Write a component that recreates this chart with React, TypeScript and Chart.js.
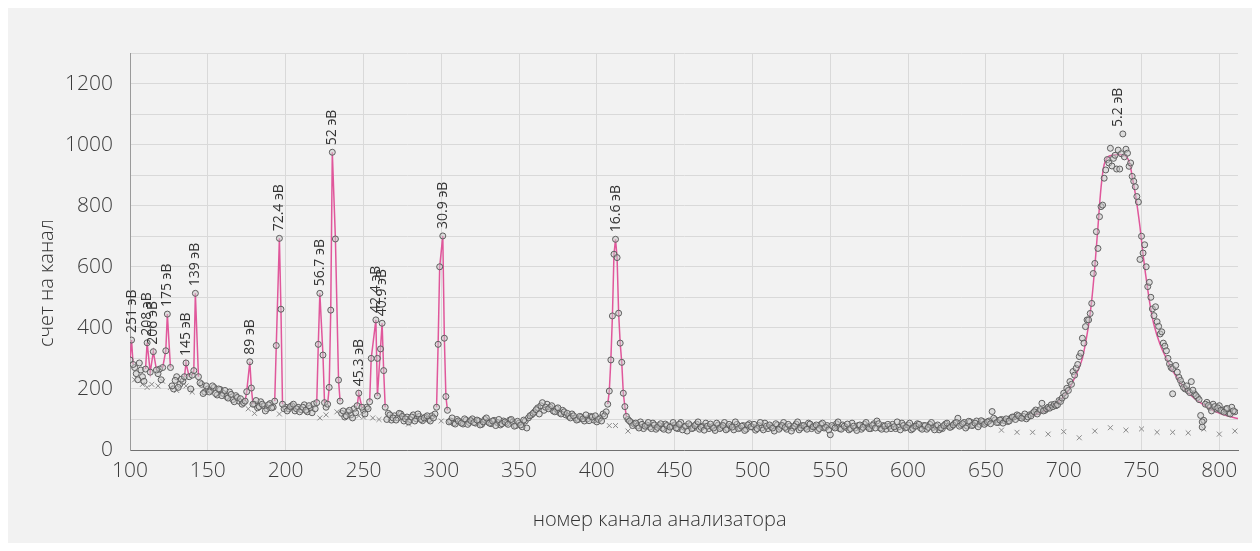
import React, { useEffect, useRef } from "react";
import { Chart, registerables } from "chart.js";

Chart.register(...registerables);

const FONT = "'Open Sans', 'Noto Sans', sans-serif";

// Measured counts, even channels from 100 to 688
const scatterAStart = 100;
const scatterAStep = 2;
const scatterA: (number | null)[] = [
  null, null, 250, 285, 240,
  275, 230, 260, 215, 250,
  230, 210, null, 225, 200,
  240, 215, 225, null, 230,
  210, null, 195, 215, 190,
  200, 195, 205, 180, 198,
  185, 175, 190, 165, 178,
  160, 150, 165, 145, null,
  150, 138, 158, 145, 135,
  152, 140, 160, null, 155,
  140, 135, 145, 128, 140,
  132, 148, 125, 138, 150,
  130, null, null, 140, null,
  null, null, null, 120, 108,
  125, 115, 135, 128, 145,
  130, 140, 125, 145, null,
  120, null, 105, 120, 98,
  112, 105, 118, 95, 108,
  100, 115, 102, 110, 96,
  108, 100, 112, 118, null,
  110, null, 120, 95, 88,
  100, 92, 85, 98, 90,
  102, 88, 95, 84, 100,
  92, 86, 97, 90, 82,
  95, 88, 98, 92, 80,
  88, 76, 95, 105, 115,
  125, 138, 145, 130, 150,
  140, 128, 135, 122, 130,
  115, 110, 118, 105, 100,
  108, 95, 102, 110, 98,
  92, 105, 118, 125, null,
  null, null, null, null, null,
  100, 90, 85, 78, 92,
  70, 82, 75, 88, 68,
  80, 72, 85, 65, 78,
  82, 70, 90, 75, 62,
  80, 72, 85, 68, 78,
  88, 70, 76, 64, 82,
  74, 90, 70, 78, 66,
  84, 72, 80, 68, 86,
  75, 65, 80, 72, 88,
  70, 76, 62, 82, 74,
  90, 68, 78, 72, 85,
  66, 80, 74, 88, 70,
  78, 64, 84, 72, 80,
  50, 76, 86, 70, 82,
  74, 66, 88, 72, 80,
  68, 84, 76, 70, 86,
  95, 72, 80, 68, 78,
  84, 70, 76, 88, 72,
  82, 66, 78, 86, 72,
  80, 68, 84, 74, 78,
  66, 70, 85, 78, 77,
  88, 104, 82, 90, 78,
  92, 82, 95, 84, 93,
  88, 95, 126, 99, 90,
  100, 96, 93, 104, 108,
  115, 106, 110, 102, 115,
  120, 131, 126, 153, 130,
];

// Measured counts, odd channels from 101 to 687
const scatterDStart = 101;
const scatterDStep = 2;
const scatterD: (number | null)[] = [
  300, 270, 230, 262, 225,
  260, 235, 270, 240, 265,
  245, 215, 235, 210, 228,
  205, 232, 218, 240, 200,
  225, 200, 220, 185, 210,
  190, 210, 185, 200, 178,
  195, 170, 182, 158, 172,
  168, 155, 140, 158, 150,
  162, 142, 150, 128, 148,
  138, 155, 145, 150, 135,
  128, 142, 150, 135, 125,
  140, 130, 145, 122, 135,
  142, 128, 138, 130, 145,
  140, 132, 115, 128, 112,
  130, 105, 122, 140, 130,
  118, 135, 128, 110, 140,
  125, 110, 100, 115, 105,
  98, 120, 110, 102, 92,
  108, 95, 118, 100, 105,
  112, 95, 105, 110, 120,
  130, 102, 92, 105, 85,
  95, 88, 102, 84, 96,
  90, 98, 82, 92, 105,
  88, 95, 80, 100, 86,
  92, 84, 100, 78, 94,
  82, 98, 72, 112, 120,
  132, 118, 155, 140, 135,
  145, 125, 138, 118, 125,
  120, 105, 112, 98, 110,
  102, 115, 96, 108, 112,
  100, 95, 112, 130, 140,
  null, null, null, null, null,
  95, 80, 88, 72, 84,
  78, 90, 70, 82, 74,
  86, 68, 80, 75, 90,
  72, 84, 66, 78, 86,
  70, 80, 92, 74, 65,
  78, 85, 72, 88, 70,
  80, 66, 84, 75, 92,
  70, 78, 64, 82, 76,
  84, 70, 90, 66, 78,
  82, 72, 86, 68, 80,
  74, 84, 62, 78, 92,
  72, 80, 68, 85, 76,
  82, 70, 88, 74, 66,
  80, 72, 92, 68, 78,
  85, 70, 78, 64, 82,
  74, 90, 70, 80, 72,
  86, 68, 78, 84, 70,
  76, 92, 66, 80, 74,
  88, 70, 78, 84, 68,
  80, 74, 90, 66, 82,
  72, 80, 88, 74, 82,
  90, 78, 86, 72, 94,
  80, 88, 76, 96, 84,
  92, 86, 104, 90, 98,
  88, 102, 95, 108, 100,
  112, 104, 118, 108, 112,
  125, 118, 132, 128,
];

// Every channel across the big peak, 689..770
const scatterBStart = 689;
const scatterBStep = 1;
const scatterB: number[] = [
  135, 140, 137, 148, 142, 150, 145, 148, 162, 159,
  170, 186, 178, 202, 195, 224, 215, 257, 245, 268,
  280, 306, 317, 366, 350, 404, 426, 426, 447, 480,
  578, 611, 715, 660, 764, 797, 802, 890, 917, 951,
  940, 988, 930, 955, 965, 920, 982, 920, 970, 1035,
  960, 985, 972, 929, 940, 896, 880, 862, 830, 812,
  624, 700, 645, 672, 600, 535, 549, 500, 462, 440,
  469, 420, 405, 380, 387, 350, 340, 325, 300, 282,
  270, 266,
];

// Even channels 772..810
const scatterCStart = 772;
const scatterCStep = 2;
const scatterC: number[] = [
  277, 238, 216, 200, 194, 224, 184, 172, 113, 97,
  156, 140, 150, 134, 145, 128, 134, 120, 140, 125,
];

// Odd channels 773..809
const scatterEStart = 773;
const scatterEStep = 2;
const scatterE: number[] = [
  255, 228, 205, 210, 188, 196, 178, 165, 92, 150,
  146, 128, 142, 138, 130, 124, 136, 118, 128,
];

const extraPoints: [number, number][] = [
  [259, 300], [261, 331], [770, 184], [789, 75],
];

// Peak segments joined by the pink line (channel, count)
const peakSegments: [number, number][][] = [
  [[100, 295], [101, 360], [102, 280]],
  [[110, 265], [111, 351], [113, 255], [115, 322], [117, 262]],
  [[121, 270], [123, 325], [124, 445], [126, 270]],
  [[135, 240], [136, 285], [138, 240]],
  [[140, 245], [141, 260], [142, 513], [144, 240]],
  [[174, 160], [175, 191], [177, 289], [178, 203], [179, 150]],
  [[193, 160], [194, 342], [196, 693], [197, 461], [198, 150]],
  [[220, 155], [221, 346], [222, 513], [224, 311], [225, 155]],
  [[227, 150], [228, 205], [229, 458], [230, 975], [232, 691], [234, 229], [235, 160]],
  [[246, 145], [247, 186], [249, 140]],
  [[254, 158], [255, 300], [258, 426], [259, 177], [262, 415], [263, 260], [264, 140]],
  [[297, 140], [298, 346], [299, 600], [301, 701], [302, 366], [303, 175], [304, 130]],
  [[407, 150], [408, 193], [409, 295], [410, 439], [411, 641], [412, 690], [413, 630],
   [414, 448], [415, 350], [416, 287], [417, 186], [418, 142], [419, 110]],
];

// Fitted curve of the 5.2 eV peak
const fitCurve: [number, number][] = [
  [680, 112], [686, 125], [690, 135], [695, 150], [700, 175],
  [703, 195], [706, 225], [709, 260], [712, 300], [714, 350], [716, 410], [718, 490],
  [720, 600], [722, 730], [723, 800], [724, 860], [725, 905], [726, 935], [728, 958],
  [732, 966], [736, 968], [740, 962], [742, 945], [743, 925], [744, 895], [746, 840],
  [748, 770], [749, 731], [751, 640], [754, 525], [756, 460], [758, 410], [762, 345],
  [766, 300], [770, 260], [775, 220], [779, 192], [785, 165], [790, 148], [798, 125],
  [805, 112], [812, 103],
];

// Background estimate (crosses)
const crossPoints: [number, number][] = [
  [103, 230], [108, 215], [111, 205], [114, 215], [118, 210], [121, 225], [126, 205],
  [130, 195], [136, 210], [140, 190], [176, 135], [180, 120], [196, 118], [222, 105],
  [226, 115], [233, 125], [247, 112], [250, 108], [256, 105], [260, 100], [279, 85],
  [300, 95], [408, 80], [412, 80], [420, 62],
  [660, 65], [670, 58], [680, 58], [690, 52], [700, 60], [710, 40], [720, 62],
  [730, 73], [740, 65], [750, 69], [760, 58], [770, 58], [780, 56], [790, 69],
  [800, 52], [810, 62],
];

const peakLabels: [number, number, string][] = [
  [101, 360, "251 эВ"],
  [111, 351, "208 эВ"],
  [115, 322, "206 эВ"],
  [124, 445, "175 эВ"],
  [136, 285, "145 эВ"],
  [142, 513, "139 эВ"],
  [177, 289, "89 эВ"],
  [196, 693, "72.4 эВ"],
  [222, 513, "56.7 эВ"],
  [230, 975, "52 эВ"],
  [247, 186, "45.3 эВ"],
  [258, 426, "42.4 эВ"],
  [262, 415, "40.9 эВ"],
  [301, 701, "30.9 эВ"],
  [412.5, 690, "16.6 эВ"],
  [735, 1035, "5.2 эВ"],
];

const xTitle = "номер канала анализатора";
const yTitle = "счет на канал";

const PINK = "#e0579b";

export default function App() {
  const ref = useRef<HTMLCanvasElement>(null);

  useEffect(() => {
    const segChannels = new Set<number>();
    peakSegments.forEach((s) => s.forEach(([x]) => segChannels.add(x)));
    const insideSegment = (x: number) =>
      peakSegments.some((s) => x > s[0][0] && x < s[s.length - 1][0]);

    const circles: { x: number; y: number }[] = [];
    const addSeries = (start: number, step: number, vals: (number | null)[]) => {
      vals.forEach((v, i) => {
        const x = start + i * step;
        if (v === null || segChannels.has(x) || insideSegment(x)) return;
        circles.push({ x, y: v });
      });
    };
    addSeries(scatterAStart, scatterAStep, scatterA);
    addSeries(scatterDStart, scatterDStep, scatterD);
    addSeries(scatterBStart, scatterBStep, scatterB);
    addSeries(scatterCStart, scatterCStep, scatterC);
    addSeries(scatterEStart, scatterEStep, scatterE);
    peakSegments.forEach((s) => s.forEach(([x, y]) => circles.push({ x, y })));
    extraPoints.forEach(([x, y]) => circles.push({ x, y }));

    const segData: { x: number; y: number | null }[] = [];
    peakSegments.forEach((s) => {
      s.forEach(([x, y]) => segData.push({ x, y }));
      segData.push({ x: s[s.length - 1][0], y: null });
    });

    const annot = {
      id: "annot",
      afterDatasetsDraw(chart: any) {
        const { ctx, chartArea, scales } = chart;
        ctx.save();
        ctx.fillStyle = "#333";
        ctx.font = `14px ${FONT}`;
        ctx.textAlign = "left";
        ctx.textBaseline = "middle";
        peakLabels.forEach(([ch, v, t]) => {
          const px = scales.x.getPixelForValue(ch);
          const py = scales.y.getPixelForValue(v) - 7;
          ctx.save();
          ctx.translate(px, py);
          ctx.rotate(-Math.PI / 2);
          ctx.fillText(t, 0, 0);
          ctx.restore();
        });
        ctx.fillStyle = "#333";
        ctx.font = `300 20px ${FONT}`;
        ctx.textAlign = "center";
        const w = chartArea.right - chartArea.left;
        const h = chartArea.bottom - chartArea.top;
        ctx.fillText(xTitle, chartArea.left + w * 0.478, chartArea.bottom + 70);
        ctx.save();
        ctx.translate(39, chartArea.top + h * 0.58);
        ctx.rotate(-Math.PI / 2);
        ctx.fillText(yTitle, 0, 0);
        ctx.restore();
        ctx.restore();
      },
    };

    const chart = new Chart(ref.current as HTMLCanvasElement, {
      type: "scatter",
      data: {
        datasets: [
          {
            label: "counts",
            data: circles,
            pointRadius: 3,
            pointBackgroundColor: "rgba(200,200,200,0.5)",
            pointBorderColor: "#5e5e5e",
            pointBorderWidth: 1,
            showLine: false,
            order: 0,
          },
          {
            label: "peaks",
            data: segData as any,
            showLine: true,
            spanGaps: false,
            borderColor: PINK,
            borderWidth: 1.5,
            pointRadius: 0,
            order: 1,
          },
          {
            label: "fit",
            data: fitCurve.map(([x, y]) => ({ x, y })),
            showLine: true,
            borderColor: PINK,
            borderWidth: 1.5,
            pointRadius: 0,
            tension: 0.4,
            cubicInterpolationMode: "monotone",
            order: 1,
          },
          {
            label: "background",
            data: crossPoints.map(([x, y]) => ({ x, y })),
            pointStyle: "crossRot",
            pointRadius: 3.5,
            pointBorderColor: "#8a8a8a",
            pointBorderWidth: 1,
            showLine: false,
            order: 2,
          },
        ],
      },
      options: {
        responsive: false,
        animation: false,
        layout: { padding: { left: 0, right: 14, top: 45, bottom: 0 } },
        plugins: {
          legend: { display: false },
          tooltip: { enabled: false },
        },
        scales: {
          x: {
            type: "linear",
            min: 100,
            max: 812,
            afterFit: (s: any) => {
              s.height = 93;
            },
            ticks: {
              stepSize: 50,
              includeBounds: false,
              autoSkip: false,
              maxRotation: 0,
              padding: 8,
              color: "#3c3c3c",
              font: { family: FONT, size: 21, weight: "300" },
            },
            grid: { color: "#d9d9d9", lineWidth: 1, drawTicks: false },
            border: { color: "#707070", width: 1 },
          },
          y: {
            type: "linear",
            min: 0,
            max: 1300,
            afterFit: (s: any) => {
              s.width = 122;
            },
            ticks: {
              stepSize: 100,
              padding: 17,
              color: "#3c3c3c",
              font: { family: FONT, size: 21, weight: "300" },
              callback: (v: any) => (v % 200 === 0 && v <= 1200 ? String(v) : ""),
            },
            grid: { color: "#d9d9d9", lineWidth: 1, drawTicks: false },
            border: { color: "#9a9a9a", width: 1 },
          },
        },
      },
      plugins: [annot],
    });
    return () => chart.destroy();
  }, []);

  return (
    <div style={{ width: 1244, height: 535, background: "#f2f2f2" }}>
      <canvas ref={ref} width={1244} height={535} style={{ display: "block" }} />
    </div>
  );
}
